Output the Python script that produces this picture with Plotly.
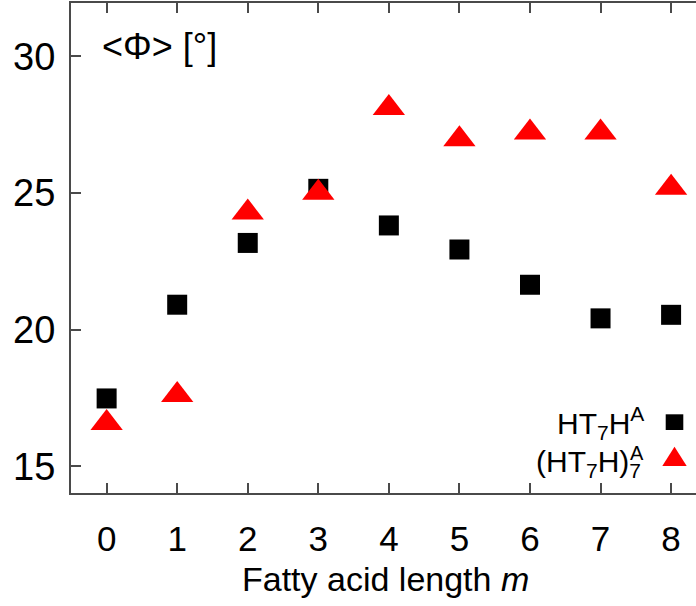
import plotly.graph_objects as go

# ---- data ----
m_values = [0, 1, 2, 3, 4, 5, 6, 7, 8]
phi_ht7h = [17.48, 20.91, 23.17, 25.15, 23.81, 22.93, 21.64, 20.41, 20.54]
phi_ht7h7 = [16.58, 17.61, 24.28, 25.01, 28.11, 26.96, 27.21, 27.21, 25.19]
x_tick_vals = [0, 1, 2, 3, 4, 5, 6, 7, 8]
y_tick_vals = [15, 20, 25, 30]

W, H = 696, 606
L, R, T, B = 71, 0, 3, 113
PW, PH = W - L - R, H - T - B


def px(xp):
    return (xp - L) / PW


def py(yp):
    return (H - B - yp) / PH


FONT = "Liberation Sans, Arial, sans-serif"
AX = "#4a4a4a"

fig = go.Figure()
fig.add_trace(go.Scatter(
    x=m_values, y=phi_ht7h, mode="markers", name="HT7HA",
    marker=dict(symbol="square", size=20, color="#000000", line=dict(width=0)),
    showlegend=False))
fig.add_trace(go.Scatter(
    x=m_values, y=phi_ht7h7, mode="markers", name="(HT7H)7A",
    marker=dict(symbol="triangle-up", size=28, color="#ff0000", line=dict(width=0)),
    showlegend=False))

fig.update_layout(
    width=W, height=H,
    margin=dict(l=L, r=R, t=T, b=B, pad=0),
    paper_bgcolor="white", plot_bgcolor="white",
    font=dict(family=FONT, color="#000000"),
    xaxis=dict(
        range=[-0.505, 8.353], tickvals=x_tick_vals,
        ticks="inside", ticklen=10, tickwidth=2, tickcolor=AX,
        showline=True, linecolor=AX, linewidth=2, mirror="ticks",
        showgrid=False, zeroline=False,
        tickfont=dict(size=35, family=FONT), ticklabelstandoff=14,
    ),
    yaxis=dict(
        range=[14.02, 31.95], tickvals=y_tick_vals,
        ticks="inside", ticklen=10, tickwidth=2, tickcolor=AX,
        showline=True, linecolor=AX, linewidth=2, mirror=False,
        showgrid=False, zeroline=False,
        tickfont=dict(size=38, family=FONT), ticklabelstandoff=6,
    ),
)

annotations = [
    dict(text="Fatty acid length <i>m</i>", x=px(385), y=py(579), xref="paper", yref="paper",
         xanchor="center", yanchor="middle", showarrow=False, font=dict(size=34, family=FONT)),
    dict(text="&lt;Φ&gt; [°]", x=px(100), y=py(46), xref="paper", yref="paper",
         xanchor="left", yanchor="middle", showarrow=False, font=dict(size=36, family=FONT)),
    dict(text="HT<sub>7</sub>H<sup>A</sup>", x=px(646), y=py(423), xref="paper", yref="paper",
         xanchor="right", yanchor="middle", showarrow=False, font=dict(size=30, family=FONT)),
    dict(text="(HT<sub>7</sub>H)<sub>7</sub>", x=px(643), y=py(463), xref="paper", yref="paper",
         xanchor="right", yanchor="middle", showarrow=False, font=dict(size=30, family=FONT)),
    dict(text="A", x=px(646), y=py(453), xref="paper", yref="paper",
         xanchor="right", yanchor="middle", showarrow=False, font=dict(size=20, family=FONT)),
]
fig.update_layout(annotations=annotations)

shapes = [
    dict(type="rect", xref="paper", yref="paper",
         x0=px(665.7), x1=px(683.3), y0=py(430), y1=py(414.3),
         fillcolor="#000000", line=dict(width=0)),
    dict(type="path", xref="paper", yref="paper",
         path=f"M {px(662.3)},{py(466)} L {px(686.7)},{py(466)} L {px(674.5)},{py(446.7)} Z",
         fillcolor="#ff0000", line=dict(width=0)),
]
fig.update_layout(shapes=shapes)

fig.write_html("out.html")
